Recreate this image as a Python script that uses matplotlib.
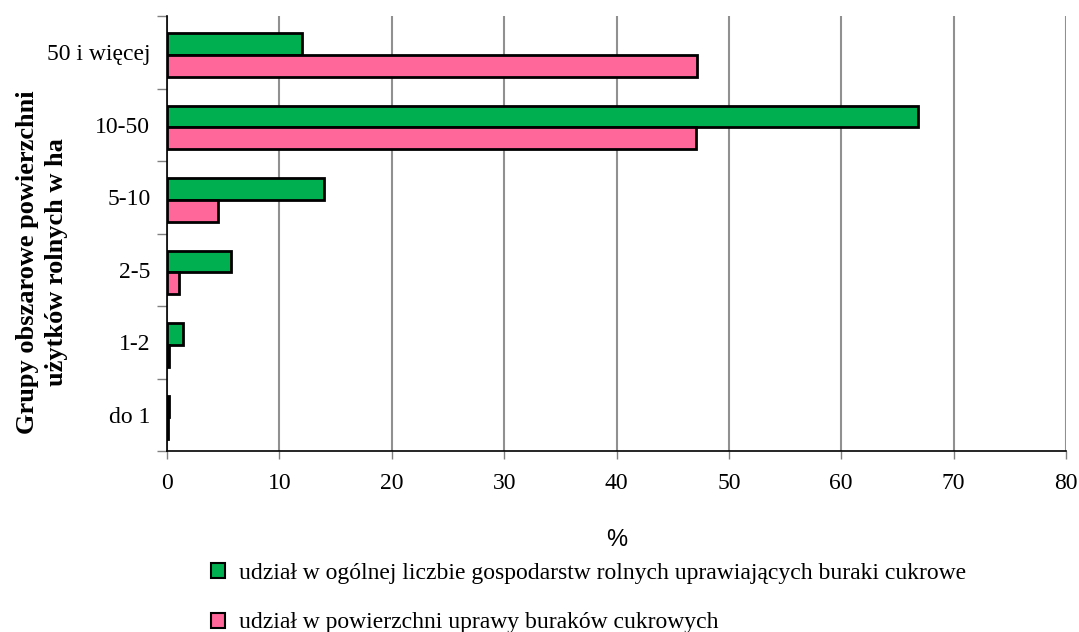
import matplotlib.pyplot as plt
import numpy as np
from matplotlib.patches import Patch

plt.rcParams['font.family'] = ['Liberation Serif', 'DejaVu Serif']

groups = ['do 1', '1-2', '2-5', '5-10', '10-50', '50 i więcej']
farms_share = [0.2, 1.4, 5.7, 14.0, 66.8, 12.0]
area_share = [0.05, 0.2, 1.1, 4.5, 47.1, 47.2]
labels = ['udział w ogólnej liczbie gospodarstw rolnych uprawiających buraki cukrowe',
          'udział w powierzchni uprawy buraków cukrowych']
green = '#00B050'
pink = '#FF6699'

fig = plt.figure(figsize=(10.79, 6.32), dpi=100)
ax = fig.add_axes([167/1079, 1-451/632, (1066-167)/1079, (451-16)/632])

y = np.arange(len(groups))
h = 0.3
ax.barh(y - 0.035 + h/2, farms_share, height=h, color=green, edgecolor='black', linewidth=2, zorder=3)
ax.barh(y - 0.035 - h/2, area_share, height=h, color=pink, edgecolor='black', linewidth=2, zorder=3)

ax.set_xlim(0, 80)
ax.set_ylim(-0.5, len(groups) - 0.5)
ax.set_xticks(np.arange(0, 81, 10))
ax.tick_params(axis='x', labelsize=17, direction='out', length=6, width=1, color='#808080', pad=10)
ax.set_yticks(y)
ax.set_yticklabels(groups)
ax.tick_params(axis='y', which='major', labelsize=17, length=0, pad=12)
ax.set_yticks(np.arange(-0.5, len(groups), 1), minor=True)
ax.tick_params(axis='y', which='minor', length=7, width=1, color='#808080')
ax.grid(axis='x', color='#909090', linewidth=1.5, zorder=0)
for s in ['top', 'right']:
    ax.spines[s].set_visible(False)
ax.spines['left'].set_linewidth(1.2)
ax.spines['bottom'].set_linewidth(1.2)

ax.set_xlabel('%', fontsize=17, family=['Liberation Sans', 'DejaVu Sans'], labelpad=25)
fig.text(42/1079, 1-262/632, 'Grupy obszarowe powierzchni\nużytków rolnych w ha', rotation=90,
         ha='center', va='center', fontsize=19, fontweight='bold', linespacing=1.3)

handles = [Patch(facecolor=green, edgecolor='black', linewidth=1.5),
           Patch(facecolor=pink, edgecolor='black', linewidth=1.5)]
fig.legend(handles, labels, loc='upper left', bbox_to_anchor=(211/1079, 1-563/632),
           frameon=False, fontsize=17, handlelength=0.6, handleheight=0.6,
           handletextpad=0.6, labelspacing=1.2, borderpad=0, borderaxespad=0)

fig.savefig('out.png', dpi=100)
